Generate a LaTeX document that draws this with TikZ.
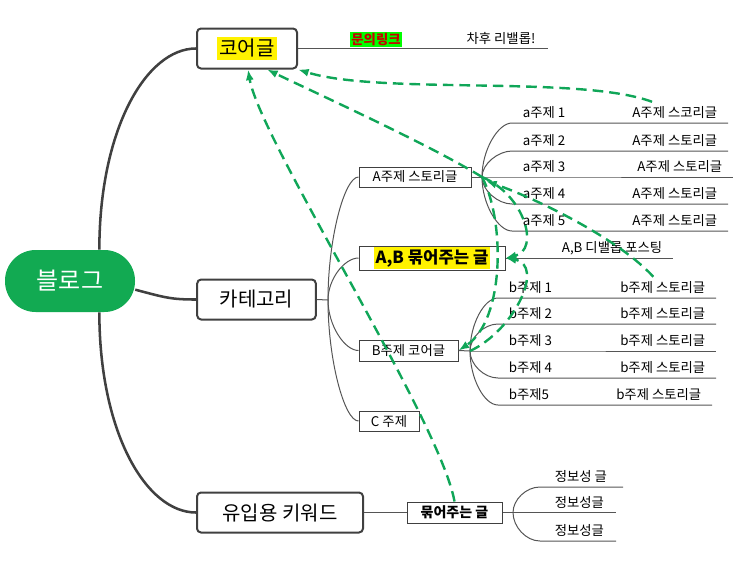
\documentclass[tikz,border=0pt]{standalone}
\usepackage{fontspec}
\setmainfont{Noto Sans CJK KR}
\usetikzlibrary{arrows.meta,calc}

\definecolor{mmgreen}{RGB}{18,170,82}
\definecolor{relgreen}{RGB}{16,166,88}
\definecolor{boxline}{RGB}{64,64,64}
\definecolor{twigline}{RGB}{85,85,85}
\definecolor{linkred}{RGB}{200,0,0}

\newcommand\hlbox[1]{{\setlength{\fboxsep}{1.5pt}\colorbox{yellow}{#1}}}
\newcommand\linkbox[1]{{\setlength{\fboxsep}{1pt}\colorbox{green}{\color{linkred}\bfseries #1}}}

\begin{document}
\begin{tikzpicture}[
  x=0.75pt, y=-0.75pt,
  root/.style={rectangle, rounded corners=23pt, fill=mmgreen, text=white,
    minimum width=97.5pt, minimum height=46.5pt, font=\fontsize{18}{20}\selectfont},
  mainbox/.style={draw=boxline, line width=1.5pt, rounded corners=3pt, fill=white,
    minimum height=30pt, font=\fontsize{15}{18}\selectfont},
  subbox/.style={draw=boxline, line width=0.75pt, fill=white, inner sep=0pt,
    minimum height=15pt, font=\fontsize{10}{12}\selectfont},
  leaf/.style={inner xsep=8pt, inner ysep=3.75pt, text height=0.8em, text depth=0pt,
    font=\fontsize{10}{12}\selectfont},
  trunk/.style={draw=boxline, line width=1.9pt},
  twig/.style={draw=twigline, line width=0.75pt},
  rel/.style={draw=relgreen, line width=1.8pt, dash pattern=on 8pt off 4.5pt,
    -{Latex[length=8pt,width=6pt]}},
  branch/.style={to path={.. controls ($(\tikztostart)!0.5!(\tikztostart |- \tikztotarget)$)
    and ($(\tikztotarget)+(-14,0)$) .. (\tikztotarget)}}
]
\useasboundingbox (0,0) rectangle (755,582);

% main topics
\node[root] (blog) at (70,281) {블로그};
\node[mainbox, minimum width=75pt] (core) at (247,48.5) {\hlbox{코어글}};
\node[mainbox, minimum width=89pt] (cat) at (256.5,299.5) {카테고리};
\node[mainbox, minimum width=124.5pt] (inflow) at (280,512.5) {유입용 키워드};

\draw[trunk] ([xshift=22pt]blog.north) .. controls +(0,-120) and +(-50,0) .. (core.west);
\draw[trunk] ([yshift=-6.5pt]blog.east) .. controls +(30,8) and +(-25,0) .. (cat.west);
\draw[trunk] ([xshift=22pt]blog.south) .. controls +(0,120) and +(-50,0) .. (inflow.west);

% core line
\coordinate (coreend) at (548,48.5);
\draw[twig] (core.east) -- (coreend);
\node[anchor=south, inner sep=0pt, font=\fontsize{10}{12}\selectfont] (inquiry) at (376,47) {\linkbox{문의링크}};
\node[leaf, anchor=south] (later) at (501,48.5) {차후 리밸롭!};

% category
\node[subbox, minimum width=84pt] (astory) at (415,177) {A주제 스토리글};
\node[subbox, minimum width=109.5pt, minimum height=18pt,
  font=\bfseries\fontsize{12.5}{15}\selectfont] (abtie) at (432,258) {\hlbox{A,B 묶어주는 글}};
\node[subbox, minimum width=74.25pt, minimum height=15.75pt] (bcore) at (408.5,350.5) {B주제 코어글};
\node[subbox, minimum width=45pt] (ctopic) at (389,421) {C 주제};

\coordinate (catj) at (328,300);
\draw[twig] (cat.east) -- (catj);
\foreach \t in {astory,abtie,bcore,ctopic}
  \draw[twig] (catj) to[branch] (\t.west);

% A rows
\coordinate (aj) at (482,177);
\draw[twig] (astory.east) -- (aj);
\foreach \i/\y/\e/\s in {1/123/728/스코리글, 2/151/728/스토리글, 3/177/733/스토리글,
    4/204/728/스토리글, 5/231/728/스토리글} {
  \node[leaf, anchor=south west] (a\i) at (512,\y) {a주제 \i};
  \node[leaf, anchor=south east] (as\i) at (\e,\y) {A주제 \s};
  \draw[twig] (aj) to[branch] (a\i.south west) -- (as\i.south east);
}

% A,B line
\node[leaf, anchor=south east] (abpost) at (673,258) {A,B 디밸롭 포스팅};
\draw[twig] (abtie.east) -- (abpost.south east);

% B rows
\coordinate (bj) at (470,351);
\draw[twig] (bcore.east) -- (bj);
\foreach \i/\y/\l/\e in {1/298/b주제 1/716, 2/324/b주제 2/716, 3/351/b주제 3/716,
    4/378/b주제 4/716, 5/405/b주제5/712} {
  \node[leaf, anchor=south west] (b\i) at (498,\y) {\l};
  \node[leaf, anchor=south east] (bs\i) at (\e,\y) {b주제 스토리글};
  \draw[twig] (bj) to[branch] (b\i.south west) -- (bs\i.south east);
}

% inflow keywords
\node[subbox, minimum width=71.25pt, minimum height=15.75pt,
  font=\bfseries\fontsize{10.5}{12}\selectfont] (bundle) at (454.5,512.5) {묶어주는 글};
\coordinate (tiej) at (513,512.5);
\draw[twig] (inflow.east) -- (bundle.west);
\draw[twig] (bundle.east) -- (tiej);
\foreach \i/\y/\l/\e in {1/487/정보성 글/623, 2/512.5/정보성글/616, 3/541/정보성글/616} {
  \node[leaf, anchor=south west, inner xsep=11pt] (info\i) at (540,\y) {\l};
  \coordinate (infoend\i) at (\e,\y);
  \draw[twig] (tiej) to[branch] (info\i.south west) -- (infoend\i);
}

% relationships
\draw[rel] ([xshift=-17pt]as1.north) .. controls (580,75) and (380,95) .. (core.south east);
\draw[rel] (aj) .. controls (430,145) and (320,95) .. ([xshift=15pt]core.south);
\draw[rel] (bundle.north) .. controls (440,420) and (260,140) .. ([xshift=0.75pt]core.south);
\draw[rel] ([xshift=-7pt]bs1.north) .. controls (620,240) and (540,200) .. ([shift={(3pt,-3pt)}]aj);
\draw[rel] (aj) .. controls (525,195) and (540,250) .. (abtie.east);
\draw[rel] (aj) .. controls (505,220) and (505,320) .. (bcore.east);
\draw[rel] (bj) .. controls (515,330) and (545,265) .. (abtie.east);
\end{tikzpicture}
\end{document}
